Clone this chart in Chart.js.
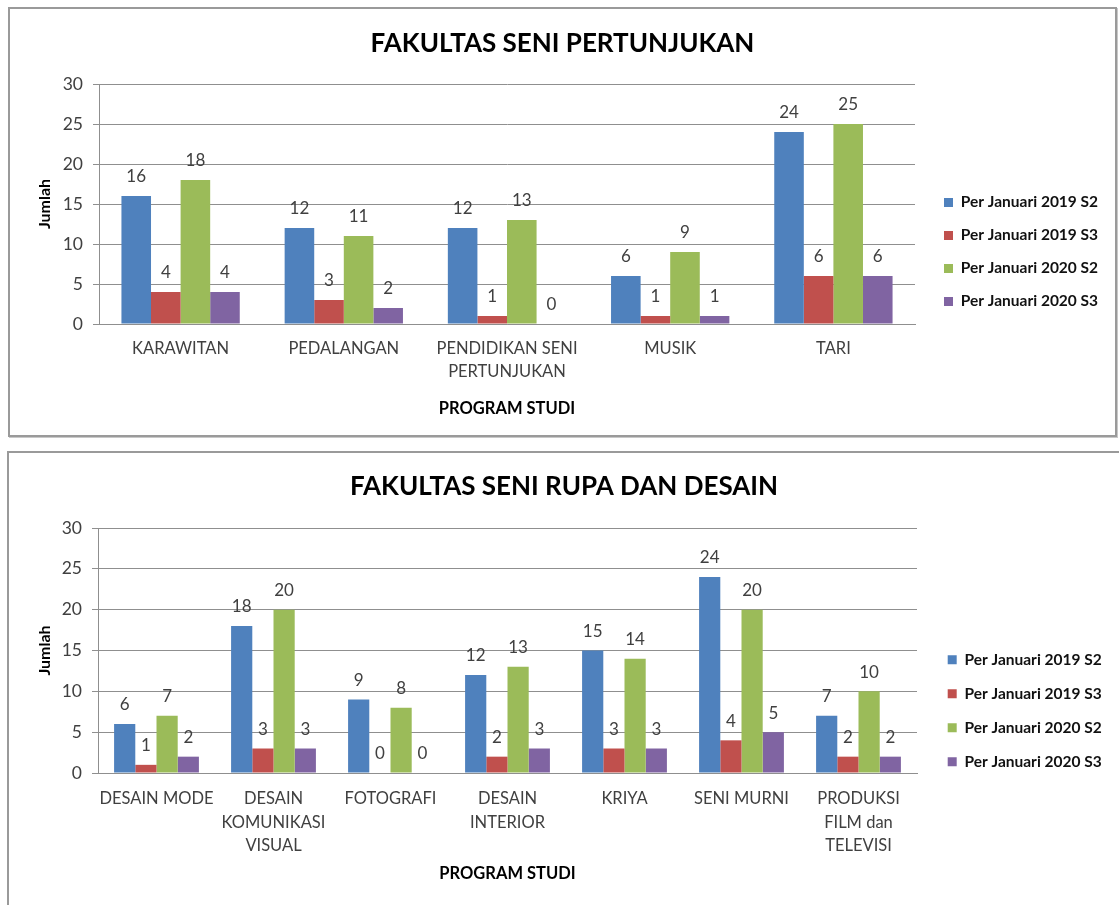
<!DOCTYPE html>
<html>
<head>
<meta charset="utf-8">
<script src="https://cdn.jsdelivr.net/npm/chart.js@4/dist/chart.umd.min.js"></script>
<style>
  html, body { margin: 0; padding: 0; background: #fff; overflow: hidden; }
  body { width: 1119px; height: 905px; position: relative; }
  .box { position: absolute; border: 2px solid #9a9a9a; box-shadow: 1px 1px 0 #c8c8c8; background: #fff; }
  #box1 { left: 8px; top: 7px; width: 1105px; height: 426px; }
  #box2 { left: 7px; top: 451px; width: 1120px; height: 470px; }
  canvas { position: absolute; }
</style>
</head>
<body>
<div class="box" id="box1"></div>
<div class="box" id="box2"></div>
<canvas id="chartTop" width="1105" height="426" style="left:10px;top:9px"></canvas>
<canvas id="chartBottom" width="1110" height="452" style="left:9px;top:453px"></canvas>
<script>
    // data: Fakultas Seni Pertunjukan
    const fspLabels = ["KARAWITAN", "PEDALANGAN", ["PENDIDIKAN SENI", "PERTUNJUKAN"], "MUSIK", "TARI"];
    const fsp2019S2 = [16, 12, 12, 6, 24];
    const fsp2019S3 = [4, 3, 1, 1, 6];
    const fsp2020S2 = [18, 11, 13, 9, 25];
    const fsp2020S3 = [4, 2, 0, 1, 6];

    // data: Fakultas Seni Rupa dan Desain
    const fsrdLabels = ["DESAIN MODE", ["DESAIN", "KOMUNIKASI", "VISUAL"], "FOTOGRAFI", ["DESAIN", "INTERIOR"],
        "KRIYA", "SENI MURNI", ["PRODUKSI", "FILM dan", "TELEVISI"]];
    const fsrd2019S2 = [6, 18, 9, 12, 15, 24, 7];
    const fsrd2019S3 = [1, 3, 0, 2, 3, 4, 2];
    const fsrd2020S2 = [7, 20, 8, 13, 14, 20, 10];
    const fsrd2020S3 = [2, 3, 0, 3, 3, 5, 2];

    const seriesNames = ["Per Januari 2019 S2", "Per Januari 2019 S3", "Per Januari 2020 S2", "Per Januari 2020 S3"];
    const seriesColors = ["#4f81bd", "#c0504d", "#9bbb59", "#8064a2"];
    const yTicks = [0, 5, 10, 15, 20, 25, 30];

    const FONT = "Lato";
    const TEXT = "#404040";
    const GRID = "#8f8f8f";

    // angka di atas batang
    const valueLabels = {
        id: "valueLabels",
        afterDatasetsDraw(chart) {
            const ctx = chart.ctx;
            ctx.save();
            ctx.font = "17px " + FONT;
            ctx.fillStyle = TEXT;
            ctx.textAlign = "center";
            ctx.textBaseline = "middle";
            chart.data.datasets.forEach((ds, i) => {
                chart.getDatasetMeta(i).data.forEach((bar, j) => {
                    ctx.fillText(ds.data[j], bar.x, bar.y - 19);
                });
            });
            ctx.restore();
        },
    };

    // legend + title placed like the Excel one
    const legendSpot = {
        id: "legendSpot",
        afterLayout(chart) {
            const p = chart.options.legendSpot;
            const lg = chart.legend;
            const pad = chart.options.plugins.legend.labels.padding;
            const w = lg.width;
            lg.left = p.x - pad;
            lg.right = lg.left + w;
            const h = lg.height;
            lg.top = p.y - pad;
            lg.bottom = lg.top + h;
            // judul di tengah kanvas penuh
            chart.titleBlock.left = 0;
            chart.titleBlock.right = chart.width;
        },
    };

    function makeChart(id, labels, values, g) {
        const ctx = document.getElementById(id).getContext("2d");
        const chart = new Chart(ctx, {
            type: "bar",
            data: {
                labels: labels,
                datasets: values.map((v, i) => ({
                    label: seriesNames[i],
                    data: v,
                    backgroundColor: seriesColors[i],
                    borderWidth: 0,
                    barPercentage: 1,
                    categoryPercentage: 0.725,
                })),
            },
            options: {
                responsive: false,
                animation: false,
                legendSpot: g.legend,
                layout: { padding: { left: 0, top: 0, right: 150, bottom: 0 } },
                plugins: {
                    title: {
                        display: true,
                        text: g.title,
                        color: "#000",
                        font: { family: FONT, size: 26, weight: "bold", lineHeight: 1.2 },
                        padding: { top: g.titleTop, bottom: g.titleBottom },
                    },
                    legend: {
                        position: "right",
                        align: "start",
                        labels: {
                            boxWidth: 9,
                            boxHeight: 9,
                            padding: g.legendPad,
                            color: "#111",
                            font: { family: FONT, size: 15.5, weight: "bold" },
                        },
                    },
                    tooltip: { enabled: false },
                },
                scales: {
                    x: {
                        afterFit: (s) => { s.height = g.xHeight; },
                        grid: { display: false, drawTicks: false },
                        border: { display: true, color: GRID },
                        ticks: {
                            color: TEXT,
                            padding: g.xTickPad,
                            maxRotation: 0,
                            autoSkip: false,
                            font: { family: FONT, size: 16.5, lineHeight: g.xLine },
                        },
                        title: {
                            display: true,
                            text: "PROGRAM STUDI",
                            color: "#000",
                            font: { family: FONT, size: 16.5, weight: "bold", lineHeight: 1.2 },
                            padding: { top: 0, bottom: g.xTitleBottom },
                        },
                    },
                    y: {
                        min: 0,
                        max: 30,
                        afterFit: (s) => { s.width = g.yWidth; },
                        afterBuildTicks: (s) => { s.ticks = yTicks.map((v) => ({ value: v })); },
                        grid: { color: GRID, tickLength: 6, drawTicks: true },
                        border: { display: true, color: GRID },
                        ticks: {
                            color: TEXT,
                            padding: 10,
                            font: { family: FONT, size: 17.5 },
                        },
                        title: {
                            display: true,
                            text: "Jumlah",
                            color: "#000",
                            font: { family: FONT, size: 16, weight: "bold", lineHeight: 1.2 },
                            padding: { top: g.yTitleTop, bottom: 0 },
                        },
                    },
                },
            },
            plugins: [valueLabels, legendSpot],
        });

        // geser padding kanan supaya area plot berhenti di posisi yang sama
        const diff = g.plotRight - chart.chartArea.right;
        chart.options.layout.padding.right -= diff;
        chart.update("none");
        return chart;
    }

    makeChart("chartTop", fspLabels, [fsp2019S2, fsp2019S3, fsp2020S2, fsp2020S3], {
        title: "FAKULTAS SENI PERTUNJUKAN",
        titleTop: 19.4,
        titleBottom: 24.4,
        xHeight: 111,
        xTickPad: 13.5,
        xLine: 23 / 16.5,
        xTitleBottom: 16,
        yWidth: 89,
        yTitleTop: 25.5,
        legendPad: 17.5,
        legend: { x: 934, y: 185.7 },
        plotRight: 905,
    });

    makeChart("chartBottom", fsrdLabels, [fsrd2019S2, fsrd2019S3, fsrd2020S2, fsrd2020S3], {
        title: "FAKULTAS SENI RUPA DAN DESAIN",
        titleTop: 18.4,
        titleBottom: 25.4,
        xHeight: 132,
        xTickPad: 14,
        xLine: 23.5 / 16.5,
        xTitleBottom: 21,
        yWidth: 89,
        yTitleTop: 26.5,
        legendPad: 18.5,
        legend: { x: 938.7, y: 199 },
        plotRight: 908,
    });
</script>
</body>
</html>
